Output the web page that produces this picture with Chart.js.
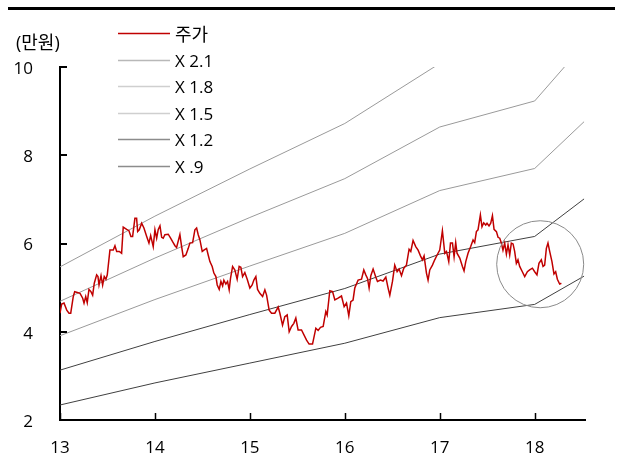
<!DOCTYPE html>
<html>
<head>
<meta charset="utf-8">
<script src="https://cdn.jsdelivr.net/npm/chart.js@4.4.1/dist/chart.umd.min.js"></script>
<style>
  html, body { margin: 0; padding: 0; background: #fff; }
  #wrap { width: 625px; height: 460px; position: relative; }
</style>
</head>
<body>
<div id="wrap"><canvas id="c"></canvas></div>
<script>
// Share price (만원) by year, and P/B band lines
const FONT = '"Open Sans", "Noto Sans CJK KR", sans-serif';
const FONT_SIZE = 17;
const unitLabel = '(만원)';
const xTickValues = [13, 14, 15, 16, 17, 18];
const yTickValues = [2, 4, 6, 8, 10];

const priceYears = [
  13.000, 13.018, 13.042, 13.071, 13.095, 13.113, 13.140, 13.155, 13.182, 13.211,
  13.239, 13.253, 13.271, 13.287, 13.305, 13.326, 13.344, 13.361, 13.386, 13.400,
  13.411, 13.432, 13.449, 13.466, 13.484, 13.498, 13.526, 13.561, 13.579, 13.597,
  13.624, 13.649, 13.666, 13.702, 13.726, 13.747, 13.765, 13.789, 13.807, 13.818,
  13.835, 13.860, 13.884, 13.913, 13.937, 13.955, 13.982, 14.000, 14.018, 14.035,
  14.053, 14.071, 14.087, 14.105, 14.140, 14.165, 14.186, 14.211, 14.228, 14.263,
  14.281, 14.298, 14.326, 14.351, 14.368, 14.397, 14.421, 14.439, 14.456, 14.474,
  14.498, 14.516, 14.544, 14.561, 14.579, 14.603, 14.621, 14.642, 14.656, 14.677,
  14.695, 14.713, 14.726, 14.747, 14.765, 14.782, 14.796, 14.818, 14.842, 14.866,
  14.887, 14.905, 14.923, 14.947, 14.972, 15.000, 15.024, 15.042, 15.063, 15.081,
  15.105, 15.134, 15.158, 15.176, 15.203, 15.228, 15.263, 15.298, 15.316, 15.344,
  15.368, 15.393, 15.414, 15.439, 15.463, 15.484, 15.508, 15.544, 15.597, 15.624,
  15.660, 15.695, 15.719, 15.744, 15.772, 15.800, 15.814, 15.842, 15.871, 15.895,
  15.929, 15.965, 15.993, 16.018, 16.042, 16.063, 16.087, 16.105, 16.140, 16.176,
  16.200, 16.221, 16.239, 16.256, 16.274, 16.298, 16.326, 16.344, 16.376, 16.403,
  16.432, 16.456, 16.474, 16.502, 16.526, 16.551, 16.572, 16.597, 16.621, 16.649,
  16.677, 16.695, 16.719, 16.747, 16.772, 16.797, 16.818, 16.835, 16.860, 16.877,
  16.895, 16.923, 16.947, 16.972, 17.000, 17.028, 17.053, 17.071, 17.095, 17.113,
  17.134, 17.151, 17.168, 17.182, 17.211, 17.239, 17.256, 17.274, 17.298, 17.326,
  17.351, 17.368, 17.386, 17.403, 17.428, 17.445, 17.463, 17.484, 17.498, 17.519,
  17.537, 17.555, 17.572, 17.597, 17.614, 17.632, 17.649, 17.666, 17.684, 17.702,
  17.719, 17.737, 17.754, 17.772, 17.789, 17.807, 17.824, 17.842, 17.870, 17.895,
  17.923, 17.947, 17.976, 18.000, 18.024, 18.045, 18.070, 18.088, 18.105, 18.123,
  18.140, 18.158, 18.182, 18.203, 18.221, 18.239, 18.263, 18.281
];
const priceValues = [
  4.42, 4.63, 4.65, 4.49, 4.42, 4.42, 4.80, 4.91, 4.89, 4.87,
  4.76, 4.65, 4.80, 4.66, 4.96, 4.91, 4.83, 5.10, 5.29, 5.25,
  5.06, 5.27, 5.06, 5.25, 5.19, 5.29, 5.85, 5.85, 5.95, 5.82,
  5.82, 5.78, 6.37, 6.32, 6.29, 6.16, 6.16, 6.57, 6.57, 6.27,
  6.31, 6.46, 6.35, 6.16, 6.01, 6.18, 5.93, 6.31, 6.12, 6.32,
  6.40, 6.14, 6.12, 6.20, 6.21, 6.12, 6.04, 5.95, 5.91, 6.20,
  5.93, 5.70, 5.74, 5.89, 6.01, 6.02, 6.31, 6.35, 6.20, 6.08,
  5.82, 5.85, 5.89, 5.74, 5.59, 5.48, 5.33, 5.25, 5.06, 4.96,
  5.14, 5.04, 5.17, 5.08, 5.14, 4.95, 5.21, 5.48, 5.40, 5.19,
  5.48, 5.46, 5.25, 5.34, 5.19, 4.99, 5.06, 5.17, 5.25, 4.96,
  4.87, 4.80, 4.95, 4.83, 4.49, 4.42, 4.42, 4.56, 4.42, 4.15,
  4.34, 4.38, 4.00, 4.12, 4.19, 4.31, 4.04, 4.04, 3.81, 3.72,
  3.72, 4.08, 4.03, 4.10, 4.12, 4.46, 4.38, 4.93, 4.91, 4.72,
  4.76, 4.81, 4.57, 4.65, 4.36, 4.68, 4.72, 4.99, 5.17, 5.19,
  5.40, 5.29, 5.21, 4.99, 5.27, 5.42, 5.24, 5.14, 5.17, 5.15,
  5.24, 4.99, 4.83, 5.14, 5.51, 5.36, 5.42, 5.27, 5.44, 5.51,
  5.87, 5.82, 6.07, 5.93, 5.85, 5.72, 5.63, 5.72, 5.33, 5.17,
  5.40, 5.51, 5.63, 5.74, 5.85, 6.29, 5.78, 5.82, 5.59, 6.01,
  6.01, 5.70, 6.02, 5.78, 5.67, 5.48, 5.38, 5.59, 5.78, 5.93,
  6.08, 6.02, 6.27, 6.31, 6.65, 6.38, 6.47, 6.42, 6.46, 6.40,
  6.46, 6.63, 6.32, 6.27, 6.14, 6.12, 6.01, 5.85, 6.01, 5.76,
  5.97, 5.74, 6.01, 5.99, 5.82, 5.55, 5.63, 5.48, 5.36, 5.25,
  5.36, 5.40, 5.44, 5.36, 5.29, 5.55, 5.63, 5.48, 5.51, 5.89,
  6.01, 5.82, 5.59, 5.31, 5.36, 5.19, 5.08, 5.10
];

// P/B band lines: value at each band knot
const bandYears = [13.0, 14.0, 15.0, 16.0, 17.0, 18.0, 18.52];
const band21 = [5.47, 6.62, 7.69, 8.72, 10.08, 10.77, 12.26];
const band18 = [4.69, 5.67, 6.59, 7.47, 8.64, 9.23, 10.51];
const band15 = [3.91, 4.73, 5.49, 6.23, 7.20, 7.70, 8.76];
const band12 = [3.13, 3.78, 4.39, 4.98, 5.76, 6.16, 7.01];
const band09 = [2.34, 2.84, 3.29, 3.74, 4.32, 4.62, 5.26];

// Highlight ring around the latest prices
const ringCenter = { x: 18.058, y: 5.53 };
const ringRadiusPx = 43.5;

const toPoints = (xs, ys) => xs.map((x, i) => ({ x: x, y: ys[i] }));

const datasets = [
  { label: '주가', data: toPoints(priceYears, priceValues), borderColor: '#c00000', borderWidth: 1.5, swatch: '#c00000', order: 0 },
  { label: 'X 2.1', data: toPoints(bandYears, band21), borderColor: '#9a9a9a', borderWidth: 1, swatch: '#b8b8b8', order: 1 },
  { label: 'X 1.8', data: toPoints(bandYears, band18), borderColor: '#9a9a9a', borderWidth: 1, swatch: '#cfcfcf', order: 2 },
  { label: 'X 1.5', data: toPoints(bandYears, band15), borderColor: '#9a9a9a', borderWidth: 1, swatch: '#cfcfcf', order: 3 },
  { label: 'X 1.2', data: toPoints(bandYears, band12), borderColor: '#404040', borderWidth: 1, swatch: '#8c8c8c', order: 4 },
  { label: 'X .9', data: toPoints(bandYears, band09), borderColor: '#404040', borderWidth: 1, swatch: '#8c8c8c', order: 5 }
];
datasets.forEach(d => { d.pointRadius = 0; d.pointHoverRadius = 0; d.tension = 0; d.fill = false; });

const decorPlugin = {
  id: 'decor',
  afterDraw(chart) {
    const ctx = chart.ctx;
    const xs = chart.scales.x, ys = chart.scales.y;
    const area = chart.chartArea;
    ctx.save();

    // header rule
    ctx.strokeStyle = '#000';
    ctx.lineWidth = 3;
    ctx.beginPath();
    ctx.moveTo(8, 8.5);
    ctx.lineTo(615, 8.5);
    ctx.stroke();

    // inward tick marks
    ctx.lineWidth = 2;
    yTickValues.forEach(v => {
      const py = Math.round(ys.getPixelForValue(v));
      ctx.beginPath();
      ctx.moveTo(area.left, py);
      ctx.lineTo(area.left + 7, py);
      ctx.stroke();
    });
    ctx.lineWidth = 1.5;
    xTickValues.forEach(v => {
      const px = Math.round(xs.getPixelForValue(v)) + 0.5;
      ctx.beginPath();
      ctx.moveTo(px, area.bottom);
      ctx.lineTo(px, area.bottom - 7);
      ctx.stroke();
    });

    // ring
    ctx.strokeStyle = '#8a8a8a';
    ctx.lineWidth = 1;
    ctx.beginPath();
    ctx.arc(xs.getPixelForValue(ringCenter.x), ys.getPixelForValue(ringCenter.y), ringRadiusPx, 0, Math.PI * 2);
    ctx.stroke();

    // unit label
    ctx.fillStyle = '#000';
    ctx.textBaseline = 'middle';
    ctx.textAlign = 'left';
    ctx.font = '18px ' + FONT;
    ctx.fillText(unitLabel, 16, 44);

    // legend
    chart.data.datasets.forEach((d, i) => {
      const y = Math.round(33 + i * 26.6) + 0.5;
      ctx.strokeStyle = d.swatch;
      ctx.lineWidth = 1.5;
      ctx.beginPath();
      ctx.moveTo(118, y);
      ctx.lineTo(170, y);
      ctx.stroke();
      ctx.fillStyle = '#000';
      ctx.font = (i === 0 ? 18 : FONT_SIZE) + 'px ' + FONT;
      ctx.fillText(d.label, 175, y + 2);
    });
    ctx.restore();
  }
};

new Chart(document.getElementById('c'), {
  type: 'line',
  data: { datasets: datasets },
  options: {
    responsive: true,
    maintainAspectRatio: false,
    animation: false,
    devicePixelRatio: 1,
    layout: { padding: { top: 67, right: 40, left: 0, bottom: 0 } },
    plugins: { legend: { display: false }, tooltip: { enabled: false } },
    scales: {
      x: {
        type: 'linear',
        min: 13,
        max: 18.53,
        afterFit(s) { s.height = 40; },
        afterBuildTicks(s) { s.ticks = xTickValues.map(v => ({ value: v })); },
        grid: { display: false, drawTicks: false, tickLength: 0 },
        border: { display: true, color: '#000', width: 2 },
        ticks: {
          padding: 18,
          color: '#000',
          font: { family: FONT, size: FONT_SIZE },
          callback: v => String(v),
          maxRotation: 0
        }
      },
      y: {
        type: 'linear',
        min: 2,
        max: 10,
        afterFit(s) { s.width = 60; },
        afterBuildTicks(s) { s.ticks = yTickValues.map(v => ({ value: v })); },
        grid: { display: false, drawTicks: false, tickLength: 0 },
        border: { display: true, color: '#000', width: 2 },
        ticks: {
          padding: 27,
          labelOffset: 2,
          color: '#000',
          font: { family: FONT, size: FONT_SIZE },
          callback: v => String(v)
        }
      }
    }
  },
  plugins: [decorPlugin]
});
</script>
</body>
</html>
